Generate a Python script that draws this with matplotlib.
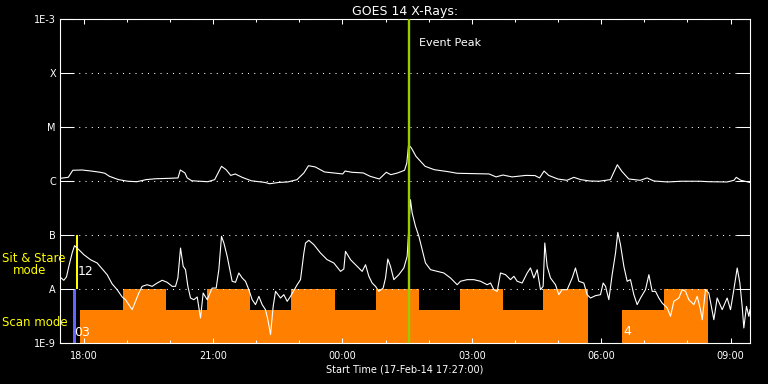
import numpy as np
import matplotlib
matplotlib.use("Agg")
import matplotlib.pyplot as plt
import matplotlib.dates as mdates

# start of the plot window and event peak
t_start = np.datetime64('2014-02-17T17:27:00')
span_min = 960
event_min = 485.6

# GOES 14 long channel (1-8 A), minutes after start, W/m^2
long_min = [0, 11.5, 17.8, 30.6, 43.3, 56, 62.4, 68.8, 81.5, 94.2, 107, 119.7, 132.4,
            151.5, 164.2, 167.4, 173.8, 177, 183.3, 205.6, 215.2, 224.7, 231.1, 237.5,
            243.8, 253.4, 266.1, 285.2, 291.6, 304.3, 317, 329.8, 339.3, 345.7, 355.2,
            368, 380.7, 393.4, 396.6, 406.2, 422, 431.6, 444.3, 453.9, 460.3, 469.8,
            479.4, 482.5, 485, 488.9, 495.3, 508, 520.7, 539.8, 552.6, 597.1, 606.7,
            616.2, 629, 648.1, 660.8, 667.2, 673.5, 679.9, 692.6, 705.4, 714.9, 724.5,
            737.2, 749.9, 765.8, 775.4, 781.7, 791.3, 807.2, 816.8, 826.3, 845.4,
            864.5, 890, 902.7, 928.2, 937.7, 940.9, 947.3, 960]
long_flux = [1.12e-6, 1.17e-6, 1.58e-6, 1.60e-6, 1.53e-6, 1.45e-6, 1.39e-6, 1.22e-6,
             1.06e-6, 0.99e-6, 0.97e-6, 1.06e-6, 1.10e-6, 1.12e-6, 1.14e-6, 1.60e-6,
             1.41e-6, 1.14e-6, 1.01e-6, 0.97e-6, 1.06e-6, 1.87e-6, 1.62e-6, 1.27e-6,
             1.35e-6, 1.17e-6, 1.01e-6, 0.94e-6, 0.89e-6, 0.94e-6, 0.96e-6, 1.06e-6,
             1.41e-6, 1.92e-6, 1.82e-6, 1.47e-6, 1.41e-6, 1.35e-6, 1.53e-6, 1.45e-6,
             1.41e-6, 1.22e-6, 1.09e-6, 1.45e-6, 1.31e-6, 1.41e-6, 1.58e-6, 2.15e-6,
             4.71e-6, 4.08e-6, 2.86e-6, 1.87e-6, 1.62e-6, 1.49e-6, 1.39e-6, 1.35e-6,
             1.19e-6, 1.29e-6, 1.19e-6, 1.27e-6, 1.26e-6, 1.14e-6, 1.53e-6, 1.27e-6,
             1.09e-6, 1.03e-6, 1.17e-6, 1.06e-6, 1.00e-6, 0.99e-6, 1.06e-6, 2.00e-6,
             1.51e-6, 1.09e-6, 1.03e-6, 1.14e-6, 1.00e-6, 0.96e-6, 0.99e-6, 0.99e-6,
             0.97e-6, 0.96e-6, 1.03e-6, 1.17e-6, 1.03e-6, 0.94e-6]

# GOES 14 short channel (0.5-4 A)
short_min = [1.6, 5.3, 9.0, 12.3, 16.9, 20.2, 26.2, 33.2, 42.4, 51.7, 58.7, 65.6, 72.6,
             79.5, 86.5, 91.1, 95.8, 100.4, 105.0, 109.7, 114.3, 121.3, 128.2, 135.2,
             142.2, 149.1, 156.1, 160.7, 164.0, 167.7, 171.4, 174.6, 177.9, 181.6,
             186.2, 190.9, 195.5, 199.2, 204.8, 211.7, 217.3, 221.0, 224.7, 228.0,
             232.6, 239.5, 244.2, 248.8, 253.5, 258.1, 262.7, 267.4, 272.0, 276.7,
             281.3, 285.9, 289.2, 292.9, 296.6, 299.9, 306.8, 311.4, 316.1, 320.7,
             330.0, 334.6, 339.3, 341.6, 346.2, 353.2, 362.4, 371.7, 381.0, 390.3,
             394.9, 397.2, 404.2, 413.5, 420.4, 425.1, 429.7, 434.3, 439.0, 443.6,
             449.6, 452.9, 456.1, 459.8, 464.5, 471.4, 478.4, 483.0, 487.6, 490.0,
             494.6, 499.3, 503.9, 508.5, 515.5, 524.8, 534.0, 543.3, 552.6, 557.2,
             566.5, 575.8, 585.1, 594.3, 599.0, 603.6, 608.3, 612.9, 619.9, 626.8,
             631.5, 636.1, 643.0, 650.0, 654.6, 659.3, 663.9, 668.5, 672.2, 674.5,
             677.8, 682.4, 689.4, 694.0, 698.7, 705.6, 712.6, 717.2, 721.9, 728.8,
             733.4, 738.1, 745.0, 752.0, 755.7, 759.0, 763.6, 768.2, 772.9, 776.1,
             779.8, 784.5, 789.1, 793.7, 798.4, 803.0, 807.7, 814.6, 819.3, 823.9,
             828.5, 833.2, 837.8, 844.8, 849.4, 854.0, 861.0, 865.6, 870.3, 874.9,
             881.9, 886.5, 891.1, 893.5, 898.1, 902.7, 909.7, 914.3, 921.3, 928.2,
             932.9, 937.5, 942.2, 945.9, 949.1, 951.4, 955.1, 958.4, 960.0]
short_flux = [1.60e-8, 1.45e-8, 1.67e-8, 2.63e-8, 4.64e-8, 6.35e-8, 5.35e-8, 4.32e-8,
              3.49e-8, 3.03e-8, 2.35e-8, 1.84e-8, 1.24e-8, 9.72e-9, 7.11e-9, 6.34e-9,
              5.13e-9, 4.14e-9, 5.91e-9, 8.43e-9, 1.12e-8, 1.20e-8, 1.12e-8, 1.29e-8,
              1.45e-8, 1.33e-8, 1.12e-8, 1.12e-8, 1.60e-8, 5.74e-8, 2.63e-8, 2.28e-8,
              1.12e-8, 6.81e-9, 6.34e-9, 7.11e-9, 2.90e-9, 8.43e-9, 6.34e-9, 1.04e-8,
              1.04e-8, 2.28e-8, 9.45e-8, 7.11e-8, 4.03e-8, 1.39e-8, 1.33e-8, 1.98e-8,
              1.60e-8, 1.39e-8, 9.72e-9, 6.34e-9, 5.13e-9, 7.31e-9, 5.13e-9, 4.14e-9,
              2.70e-9, 1.43e-9, 4.78e-9, 9.05e-9, 6.81e-9, 7.85e-9, 5.91e-9, 7.31e-9,
              1.20e-8, 1.49e-8, 4.64e-8, 7.11e-8, 7.97e-8, 6.62e-8, 4.64e-8, 3.49e-8,
              3.03e-8, 2.12e-8, 2.35e-8, 4.98e-8, 3.49e-8, 2.63e-8, 2.12e-8, 2.82e-8,
              1.72e-8, 1.29e-8, 1.12e-8, 9.05e-9, 1.04e-8, 1.60e-8, 3.59e-8, 2.63e-8,
              1.49e-8, 1.84e-8, 2.45e-8, 4.03e-8, 4.5e-7, 2.55e-7, 1.45e-7, 9.45e-8,
              5.35e-8, 3.03e-8, 2.28e-8, 2.12e-8, 1.98e-8, 1.60e-8, 1.20e-8, 1.39e-8,
              1.49e-8, 1.49e-8, 1.39e-8, 1.20e-8, 1.29e-8, 9.72e-9, 9.05e-9, 1.98e-8,
              1.84e-8, 1.49e-8, 1.72e-8, 1.39e-8, 1.29e-8, 1.98e-8, 2.45e-8, 1.60e-8,
              2.28e-8, 9.72e-9, 1.12e-8, 7.11e-8, 2.63e-8, 1.60e-8, 1.20e-8, 7.85e-9,
              9.72e-9, 9.72e-9, 1.60e-8, 2.45e-8, 1.39e-8, 1.29e-8, 7.85e-9, 6.81e-9,
              7.52e-9, 7.85e-9, 1.29e-8, 1.12e-8, 6.34e-9, 1.84e-8, 4.64e-8, 1.12e-7,
              6.62e-8, 2.63e-8, 1.39e-8, 1.49e-8, 7.85e-9, 5.13e-9, 6.81e-9, 9.72e-9,
              1.84e-8, 9.05e-9, 9.05e-9, 6.81e-9, 5.50e-9, 4.45e-9, 3.12e-9, 5.91e-9,
              6.81e-9, 9.72e-9, 9.05e-9, 6.34e-9, 5.13e-9, 7.31e-9, 4.14e-9, 2.70e-9,
              9.72e-9, 8.43e-9, 2.70e-9, 6.81e-9, 4.14e-9, 6.81e-9, 4.14e-9, 9.72e-9,
              2.45e-8, 1.29e-8, 4.78e-9, 1.90e-9, 4.78e-9, 3.12e-9, 4.14e-9]

# IRIS scan mode blocks: start/end minutes after start, top of block
scan_start = [28.5, 87, 147, 204, 264, 321, 382, 439, 499, 556, 616, 672, 782.5, 841]
scan_end = [87, 147, 204, 264, 321, 382, 439, 499, 556, 616, 672, 734, 841, 901]
scan_top = [4.1e-9, 1e-8, 4.1e-9, 1e-8, 4.1e-9, 1e-8, 4.1e-9, 1e-8, 4.1e-9, 1e-8,
            4.1e-9, 1e-8, 4.1e-9, 1e-8]
# short observations at the start
scan_short = (18.4, 22.5)
sitstare_short = (22.5, 25.3)

ytick_vals = [1e-9, 1e-8, 1e-7, 1e-6, 1e-5, 1e-4, 1e-3]
ytick_labels = ['1E-9', 'A', 'B', 'C', 'M', 'X', '1E-3']

t0 = mdates.date2num(t_start.astype('datetime64[s]').astype(object))


def tnum(minutes):
    return t0 + np.asarray(minutes, dtype=float) / 1440.0


fig = plt.figure(figsize=(7.68, 3.84), dpi=100, facecolor='black')
ax = fig.add_axes([60 / 768, 1 - 343 / 384, 690 / 768, 324 / 384])
ax.set_facecolor('black')
ax.set_yscale('log')

# observation blocks
left = tnum(scan_start)
width = tnum(scan_end) - left
ax.bar(left, np.array(scan_top) - 1e-9, width=width, bottom=1e-9, align='edge',
       color='#ff8000', lw=0, zorder=1)
ax.bar(tnum(scan_short[0]), 1e-8 - 1e-9, width=(scan_short[1] - scan_short[0]) / 1440,
       bottom=1e-9, align='edge', color='#6464ff', lw=0, zorder=1)
ax.bar(tnum(sitstare_short[0]), 1e-7 - 1e-8, width=(sitstare_short[1] - sitstare_short[0]) / 1440,
       bottom=1e-8, align='edge', color='#ffff00', lw=0, zorder=1)

ax.plot(tnum(long_min), long_flux, color='white', lw=0.8, zorder=3)
ax.plot(tnum(short_min), short_flux, color='white', lw=0.8, zorder=3)
ax.axvline(tnum(event_min), color='#9acd00', lw=1.7, zorder=4)

ax.text(tnum(event_min + 14.5), 10 ** -3.44, 'Event Peak', color='white',
        fontsize=8, va='center', ha='left')
ax.text(tnum(24.3), 2.1e-8, '12', color='white', fontsize=9, va='center', ha='left')
ax.text(tnum(20.0), 1.55e-9, '03', color='white', fontsize=9, va='center', ha='left')
ax.text(tnum(scan_start[12] + 1), 1.6e-9, '4', color='white', fontsize=9,
        va='center', ha='left')

ax.set_xlim(tnum(0), tnum(span_min))
ax.set_ylim(1e-9, 1e-3)
ax.set_yticks(ytick_vals)
ax.set_yticklabels(ytick_labels)
ax.yaxis.set_minor_locator(matplotlib.ticker.NullLocator())
ax.yaxis.grid(True, color='white', linestyle=(0, (1, 5)), lw=0.75)

ax.xaxis.set_major_locator(mdates.HourLocator(byhour=range(0, 24, 3)))
ax.xaxis.set_minor_locator(mdates.HourLocator())
ax.xaxis.set_major_formatter(mdates.DateFormatter('%H:%M'))

ax.tick_params(axis='y', direction='in', length=10, width=0.75, left=True,
               right=True, colors='white', labelsize=7, pad=3)
ax.tick_params(axis='x', which='major', direction='in', length=3.6, width=0.75,
               top=True, colors='white', labelsize=7, pad=6)
ax.tick_params(axis='x', which='minor', direction='in', length=2.2, width=0.75,
               top=True, colors='white')
for sp in ax.spines.values():
    sp.set_color('white')
    sp.set_linewidth(0.8)

ax.set_title('GOES 14 X-Rays:', color='white', fontsize=9, pad=3)
ax.set_xlabel('Start Time (17-Feb-14 17:27:00)', color='white', fontsize=7, labelpad=2)

fig.text(2 / 768, 1 - 258 / 384, 'Sit & Stare', color='#ffff00', fontsize=8.5,
         va='center', ha='left')
fig.text(13 / 768, 1 - 271 / 384, 'mode', color='#ffff00', fontsize=8.5,
         va='center', ha='left')
fig.text(2 / 768, 1 - 323 / 384, 'Scan mode', color='#ffff00', fontsize=8.5,
         va='center', ha='left')

fig.savefig('out.png', dpi=100, facecolor='black')
